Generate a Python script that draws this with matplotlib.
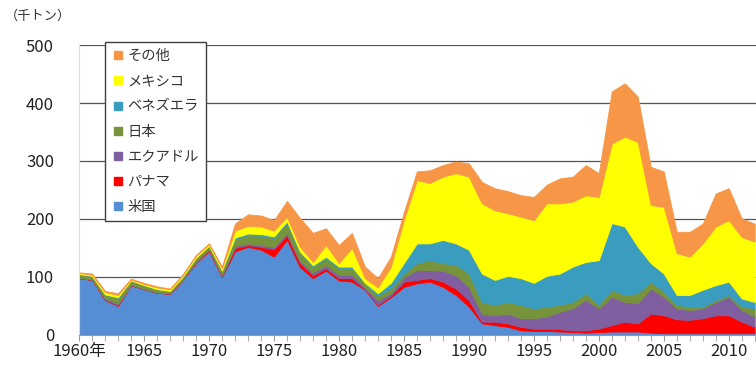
import matplotlib
matplotlib.use("Agg")
import matplotlib.pyplot as plt
from matplotlib.lines import Line2D
from matplotlib.ticker import MultipleLocator
import numpy as np

plt.rcParams['font.family'] = ['Noto Sans CJK JP', 'DejaVu Sans']

years = list(range(1960, 2013))

# 千トン per country, bottom layer first
usa = [98, 95, 60, 50, 86, 79, 73, 71, 95, 124, 145, 100,
       144, 152, 147, 135, 164, 117, 98, 111, 94, 92, 78, 50, 65,
       83, 89, 92, 83, 69, 49, 20, 17, 14, 8, 7, 7, 6, 5, 4, 5,
       6, 6, 6, 4, 3, 3, 3, 3, 3, 3, 3, 3]
panama = [0, 0, 1, 1, 0, 0, 0, 0, 0, 1, 1, 1,
          6, 3, 5, 13, 8, 7, 5, 4, 4, 6, 1, 2, 3,
          9, 6, 6, 9, 11, 11, 3, 6, 6, 6, 4, 4, 4, 3, 4, 6,
          11, 17, 14, 33, 31, 24, 23, 26, 31, 31, 20, 11]
ecuador = [1, 1, 2, 3, 1, 1, 1, 1, 1, 2, 2, 2,
           3, 3, 3, 4, 4, 4, 5, 5, 6, 6, 3, 8, 4,
           8, 17, 14, 19, 23, 23, 14, 11, 17, 15, 18, 21, 30, 38, 53, 35,
           49, 34, 35, 43, 32, 19, 17, 17, 23, 32, 20, 18]
japan = [6, 6, 7, 10, 7, 6, 5, 4, 5, 6, 6, 8,
         12, 14, 16, 15, 17, 13, 10, 12, 11, 11, 6, 8, 8,
         6, 12, 17, 13, 18, 23, 20, 18, 20, 23, 17, 17, 12, 11, 11, 6,
         12, 12, 17, 12, 9, 6, 6, 3, 3, 3, 6, 14]
venezuela = [0, 0, 0, 1, 0, 0, 0, 0, 0, 0, 0, 0,
             3, 3, 3, 3, 3, 3, 2, 3, 3, 3, 2, 4, 10,
             18, 34, 29, 40, 37, 41, 49, 43, 45, 46, 44, 53, 54, 61, 54, 77,
             115, 118, 80, 32, 31, 17, 20, 29, 26, 23, 14, 11]
mexico = [2, 2, 4, 4, 2, 2, 3, 3, 3, 4, 3, 4,
          12, 13, 13, 10, 8, 8, 6, 20, 6, 32, 8, 10, 28,
          74, 109, 104, 109, 121, 126, 121, 120, 108, 106, 108, 125, 121, 112, 115, 109,
          137, 155, 181, 100, 115, 72, 66, 80, 101, 106, 106, 104]
others = [1, 2, 2, 3, 1, 2, 2, 1, 1, 1, 1, 3,
          12, 20, 19, 18, 27, 50, 50, 29, 31, 26, 20, 16, 17,
          14, 15, 22, 20, 20, 23, 37, 38, 38, 37, 40, 32, 43, 43, 52, 41,
          90, 92, 78, 66, 61, 37, 43, 34, 57, 55, 32, 31]

labels = ['米国', 'パナマ', 'エクアドル', '日本', 'ベネズエラ', 'メキシコ', 'その他']
colors = ['#558ED5', '#FF0000', '#7F5FA0', '#77933C', '#3A9DBF', '#FFFF00', '#F79646']

fig = plt.figure(figsize=(7.56, 3.68), dpi=100)
ax = fig.add_axes([0.1045, 0.0897, 0.8955, 0.788])

polys = ax.stackplot(years, usa, panama, ecuador, japan, venezuela, mexico, others,
                     colors=colors, zorder=2)
for p, c in zip(polys, colors):
    p.set_edgecolor(c)
    p.set_linewidth(0.6)

ax.set_xlim(1960, 2012.1)
ax.set_ylim(0, 500)
ax.set_yticks(np.arange(0, 501, 100))
ax.yaxis.grid(True, color='#555555', linewidth=0.9, zorder=1)
ax.set_axisbelow(True)
ax.tick_params(axis='y', length=0, pad=18, labelsize=12, labelcolor='#222222')

ax.xaxis.set_minor_locator(MultipleLocator(1))
ax.set_xticks(list(range(1960, 2011, 5)))
ax.set_xticklabels(['1960年'] + [str(y) for y in range(1965, 2011, 5)])
ax.tick_params(axis='x', which='both', length=4, color='#999999', direction='out',
               labelsize=12, labelcolor='#222222', pad=2)

for s in ['top', 'right']:
    ax.spines[s].set_visible(False)
ax.spines['bottom'].set_color('#999999')
ax.spines['left'].set_color('#dddddd')

fig.text(0.006, 0.955, '（千トン）', fontsize=9.5, color='#333333', va='center')

handles = [Line2D([], [], marker='s', linestyle='', markersize=6,
                  markerfacecolor=c, markeredgecolor=c) for c in colors[::-1]]
leg = ax.legend(handles, labels[::-1], loc='upper left', bbox_to_anchor=(0.038, 1.01),
                fontsize=10.3, frameon=True, fancybox=False, framealpha=1,
                edgecolor='#404040', handlelength=0.8, handletextpad=0.3,
                labelspacing=0.78, borderpad=0.5, borderaxespad=0)
leg.get_frame().set_linewidth(1.0)
for t in leg.get_texts():
    t.set_color('#333333')

fig.savefig('out.png', dpi=100)
